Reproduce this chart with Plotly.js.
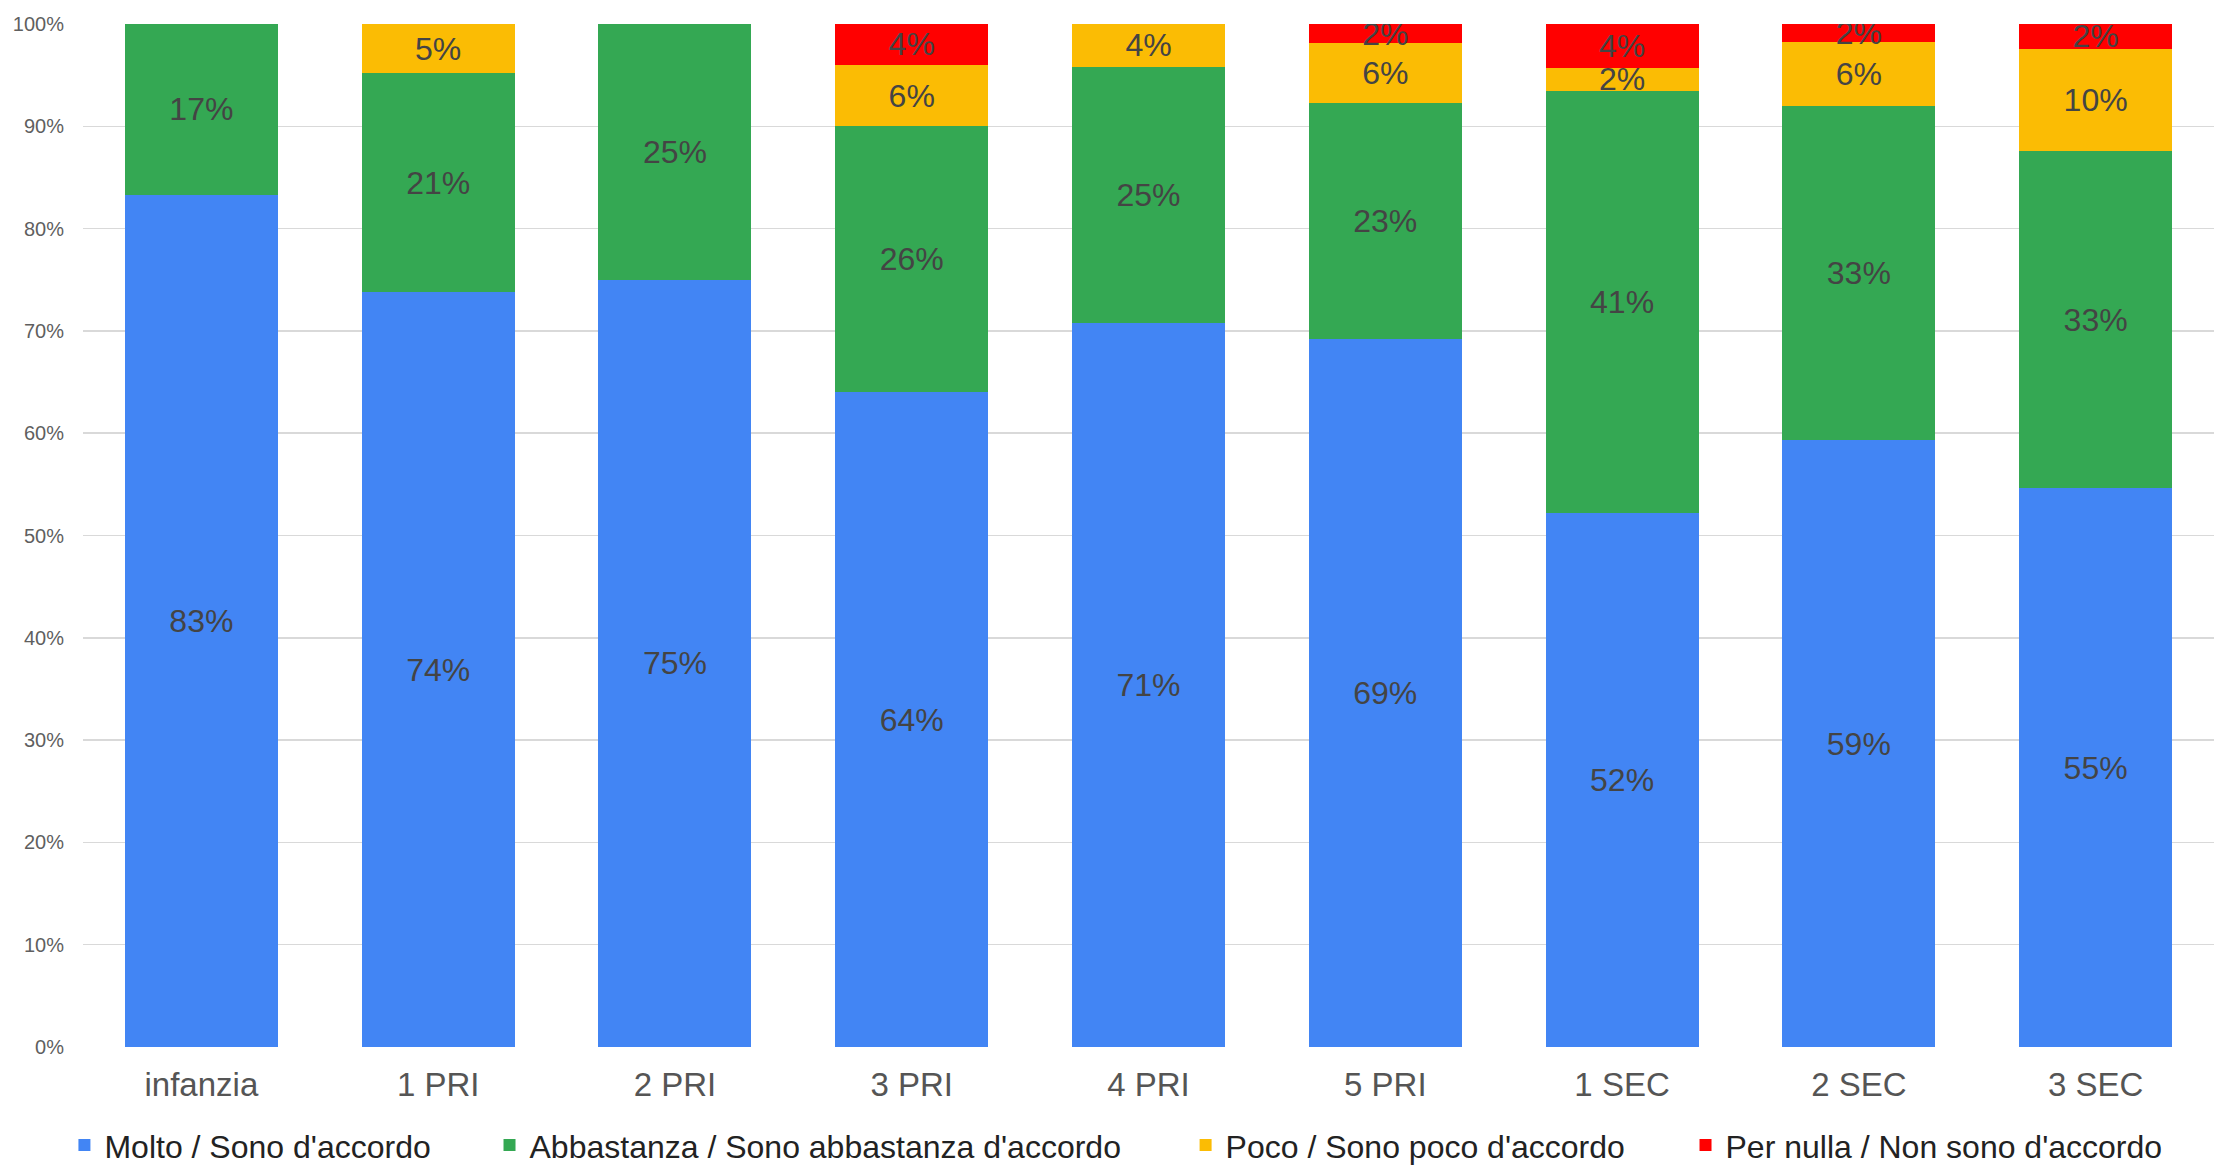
<!DOCTYPE html>
<html>
<head>
<meta charset="utf-8">
<script src="https://cdn.plot.ly/plotly-3.0.1.min.js"></script>
<style>html,body{margin:0;padding:0;background:#fff;}#chart{width:2214px;height:1168px;}</style>
</head>
<body>
<div id="chart"></div>
<script>
const categories = ["infanzia", "1 PRI", "2 PRI", "3 PRI", "4 PRI", "5 PRI", "1 SEC", "2 SEC", "3 SEC"];
const seriesNames = ["Molto / Sono d'accordo", "Abbastanza / Sono abbastanza d'accordo", "Poco / Sono poco d'accordo", "Per nulla / Non sono d'accordo"];
const molto      = [83.3, 73.8, 75.0, 64.0, 70.8, 69.2, 52.2, 59.3, 54.6];
const abbastanza = [16.7, 21.4, 25.0, 26.0, 25.0, 23.1, 41.3, 32.7, 33.0];
const poco       = [null, 4.8, null, 6.0, 4.2, 5.8, 2.2, 6.2, 10.0];
const perNulla   = [null, null, null, 4.0, null, 1.9, 4.3, 1.8, 2.4];
const yTickVals  = [0, 10, 20, 30, 40, 50, 60, 70, 80, 90, 100];
const yTickText  = ["0%", "10%", "20%", "30%", "40%", "50%", "60%", "70%", "80%", "90%", "100%"];

const colors = ["#4285F4", "#34A853", "#FBBC04", "#FF0000"];
const seriesData = [molto, abbastanza, poco, perNulla];
const legendIds = ["legend", "legend2", "legend3", "legend4"];
const legendX = [0.0291, 0.2211, 0.5355, 0.7613];
const FONT = "Liberation Sans, Arial, sans-serif";

const traces = seriesData.map((vals, i) => ({
  type: "bar",
  name: seriesNames[i],
  x: categories,
  y: vals,
  legend: legendIds[i],
  marker: {color: colors[i], line: {width: 0}},
  texttemplate: "%{y:.0f}%",
  textposition: "inside",
  insidetextanchor: "middle",
  constraintext: "none",
  textangle: 0,
  textfont: {family: FONT, size: 32, color: "#444444"},
  hoverinfo: "none"
}));

const layout = {
  width: 2214,
  height: 1168,
  barmode: "stack",
  bargap: 0.354,
  paper_bgcolor: "#ffffff",
  plot_bgcolor: "#ffffff",
  margin: {l: 83, r: 0, t: 24, b: 121, pad: 0},
  font: {family: FONT, color: "#555555"},
  xaxis: {
    type: "category",
    range: [-0.5, 8.5],
    showgrid: false,
    zeroline: false,
    showline: false,
    ticks: "",
    tickfont: {family: FONT, size: 33, color: "#555555"},
    ticklabelstandoff: 15
  },
  yaxis: {
    range: [0, 100],
    tickmode: "array",
    tickvals: yTickVals,
    ticktext: yTickText,
    showgrid: true,
    gridcolor: "#d9d9d9",
    gridwidth: 1.5,
    zeroline: false,
    showline: false,
    ticks: "",
    tickfont: {family: FONT, size: 20, color: "#5f5f5f"},
    ticklabelstandoff: 18
  },
  showlegend: true
};

legendIds.forEach((id, i) => {
  layout[id] = {
    orientation: "h",
    xref: "container",
    yref: "container",
    x: legendX[i],
    xanchor: "left",
    y: 0.043,
    yanchor: "top",
    borderwidth: 0,
    bgcolor: "rgba(0,0,0,0)",
    font: {family: FONT, size: 32, color: "#222222"},
    itemclick: false
  };
});

Plotly.newPlot("chart", traces, layout, {staticPlot: true, displayModeBar: false});
</script>
</body>
</html>
